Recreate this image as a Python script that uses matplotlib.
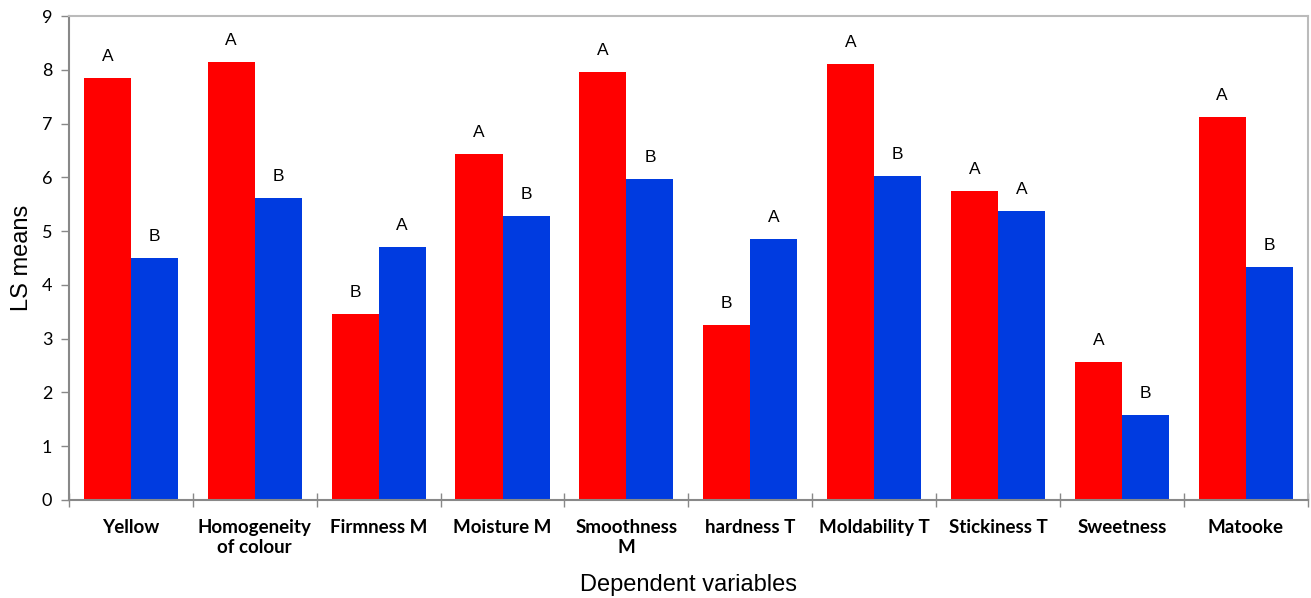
import matplotlib
matplotlib.use("Agg")
import matplotlib.pyplot as plt
import numpy as np

categories = ["Yellow", "Homogeneity\nof colour", "Firmness M", "Moisture M", "Smoothness\nM",
              "hardness T", "Moldability T", "Stickiness T", "Sweetness", "Matooke"]
red_values = [7.84, 8.14, 3.46, 6.43, 7.96, 3.25, 8.10, 5.74, 2.56, 7.12]
blue_values = [4.50, 5.61, 4.70, 5.28, 5.97, 4.85, 6.02, 5.37, 1.58, 4.33]
red_letters = ["A", "A", "B", "A", "A", "B", "A", "A", "A", "A"]
blue_letters = ["B", "B", "A", "B", "B", "A", "B", "A", "B", "B"]
yticks = list(range(0, 10))

fig = plt.figure(figsize=(13.11, 5.98), dpi=100)
ax = fig.add_axes([0.0526, 0.1639, 0.9449, 0.8093])

x = np.arange(len(categories))
w = 0.38
ax.bar(x - w / 2, red_values, width=w, color="#FF0000", linewidth=0)
ax.bar(x + w / 2, blue_values, width=w, color="#003BE0", linewidth=0)

for xi, v, t in zip(x - w / 2, red_values, red_letters):
    ax.text(xi, v + 0.26, t, ha="center", va="bottom", fontsize=12.5, family="Liberation Sans")
for xi, v, t in zip(x + w / 2, blue_values, blue_letters):
    ax.text(xi, v + 0.26, t, ha="center", va="bottom", fontsize=12.5, family="Liberation Sans")

ax.set_xlim(-0.5, len(categories) - 0.5)
ax.set_ylim(0, 9)
ax.set_yticks(yticks)
ax.set_yticklabels([str(t) for t in yticks], fontsize=13, family="Lato")

ax.set_xticks(np.arange(-0.5, len(categories), 1.0))
ax.set_xticklabels([])
ax.tick_params(axis="x", which="major", direction="inout", length=10, color="#888888", width=1)
ax.set_xticks(x, minor=True)
ax.set_xticklabels(categories, minor=True, fontsize=13.5, fontweight="bold", family="Lato",
                   linespacing=1.15)
ax.tick_params(axis="x", which="minor", length=0, pad=14)
ax.tick_params(axis="y", direction="out", length=6, color="#888888", width=1, pad=6)

for s in ["left", "bottom"]:
    ax.spines[s].set_color("#888888")
    ax.spines[s].set_linewidth(1.5)
for s in ["top", "right"]:
    ax.spines[s].set_color("#BBBBBB")
    ax.spines[s].set_linewidth(1.5)

ax.set_ylabel("LS means", fontsize=17, family="Liberation Sans", labelpad=6)
ax.set_xlabel("Dependent variables", fontsize=17, family="Liberation Sans", labelpad=13)

fig.savefig("out.png", dpi=100)
